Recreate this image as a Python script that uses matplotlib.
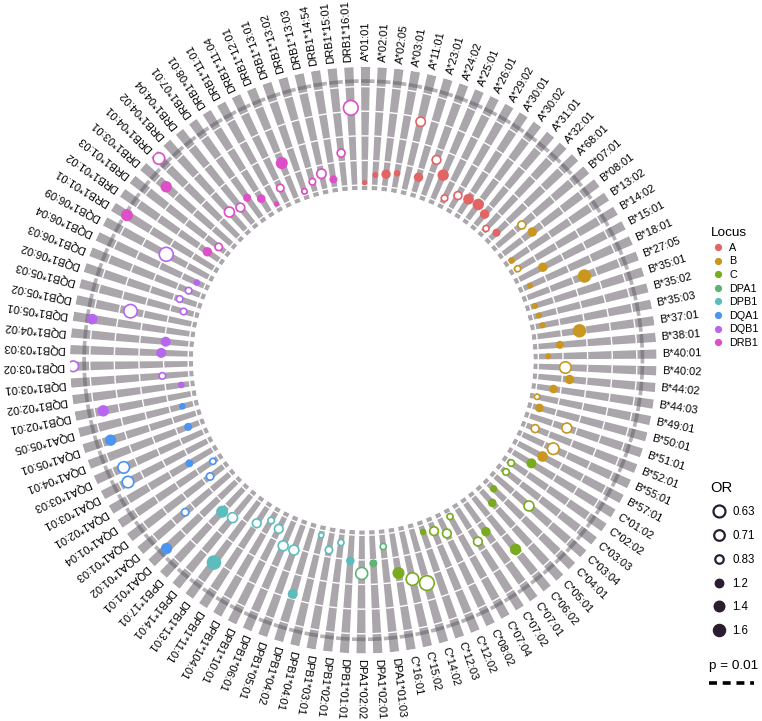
import numpy as np
import matplotlib.pyplot as plt
from matplotlib.lines import Line2D

plt.rcParams['font.family'] = ['Liberation Sans', 'DejaVu Sans']

# ---- data -------------------------------------------------------------
loci = ['A', 'B', 'C', 'DPA1', 'DPB1', 'DQA1', 'DQB1', 'DRB1']
locus_colors = ['#e36464', '#c9961f', '#7aab1e', '#5cb572',
                '#5dbdbd', '#4b94f2', '#b866ef', '#dc4fc7']

alleles = [
    'A*01:01', 'A*02:01', 'A*02:05', 'A*03:01', 'A*11:01', 'A*23:01', 'A*24:02',
    'A*25:01', 'A*26:01', 'A*29:02', 'A*30:01', 'A*30:02', 'A*31:01', 'A*32:01',
    'A*68:01',
    'B*07:01', 'B*08:01', 'B*13:02', 'B*14:02', 'B*15:01', 'B*18:01', 'B*27:05',
    'B*35:01', 'B*35:02', 'B*35:03', 'B*37:01', 'B*38:01', 'B*40:01', 'B*40:02',
    'B*44:02', 'B*44:03', 'B*49:01', 'B*50:01', 'B*51:01', 'B*52:01', 'B*55:01',
    'B*57:01',
    'C*01:02', 'C*02:02', 'C*03:03', 'C*03:04', 'C*04:01', 'C*05:01', 'C*06:02',
    'C*07:01', 'C*07:02', 'C*07:04', 'C*08:02', 'C*12:02', 'C*12:03', 'C*14:02',
    'C*15:02', 'C*16:01',
    'DPA1*01:03', 'DPA1*02:01', 'DPA1*02:02',
    'DPB1*01:01', 'DPB1*02:01', 'DPB1*03:01', 'DPB1*04:01', 'DPB1*04:02',
    'DPB1*05:01', 'DPB1*06:01', 'DPB1*10:01', 'DPB1*104:01', 'DPB1*11:01',
    'DPB1*13:01', 'DPB1*14:01', 'DPB1*17:01',
    'DQA1*01:01', 'DQA1*01:02', 'DQA1*01:03', 'DQA1*01:04', 'DQA1*02:01',
    'DQA1*03:01', 'DQA1*03:03', 'DQA1*04:01', 'DQA1*05:01', 'DQA1*05:05',
    'DQB1*02:01', 'DQB1*02:02', 'DQB1*03:01', 'DQB1*03:02', 'DQB1*03:03',
    'DQB1*04:02', 'DQB1*05:01', 'DQB1*05:02', 'DQB1*05:03', 'DQB1*06:02',
    'DQB1*06:03', 'DQB1*06:04', 'DQB1*06:09',
    'DRB1*01:01', 'DRB1*01:02', 'DRB1*01:03', 'DRB1*03:01', 'DRB1*04:01',
    'DRB1*04:02', 'DRB1*04:04', 'DRB1*07:01', 'DRB1*08:01', 'DRB1*11:01',
    'DRB1*11:04', 'DRB1*12:01', 'DRB1*13:01', 'DRB1*13:02', 'DRB1*13:03',
    'DRB1*14:54', 'DRB1*15:01', 'DRB1*16:01',
]

# association score (radial position, 0 = inner edge, 1 = outer edge)
score = [
    0.06, 0.125, 0.14, 0.16, 0.61, 0.17, 0.35, 0.255, 0.09, 0.16, 0.18, 0.19,
    0.16, 0.08, 0.115,
    0.31, 0.34, 0.07, 0.075, 0.26, 0.10, 0.54, 0.08, 0.09, 0.10, 0.39, 0.22,
    0.12, 0.26, 0.30, 0.18, 0.06, 0.10, 0.36, 0.12, 0.32, 0.27,
    0.22, 0.08, 0.09, 0.41, 0.105, 0.18, 0.59, 0.33, 0.36, 0.07, 0.18, 0.12,
    0.095, 0.50, 0.44, 0.37,
    0.14, 0.27, 0.35,
    0.25, 0.11, 0.185, 0.08, 0.60, 0.26, 0.26, 0.15, 0.12, 0.20, 0.66, 0.28,
    0.30,
    0.83, 0.52, 0.18, 0.09, 0.26, 0.77, 0.75, 0.14, 0.77, 0.135,
    0.77, 0.11, 0.255, 0.975, 0.26, 0.23, 0.845, 0.55, 0.13, 0.19, 0.145,
    0.11, 0.435,
    0.87, 0.16, 0.11, 0.75, 0.95, 0.24, 0.21, 0.24, 0.17, 0.07, 0.17, 0.35,
    0.07, 0.125, 0.17, 0.106, 0.31, 0.67,
]

odds_ratio = [
    1.02, 1.05, 1.28, 1.08, 0.78, 1.28, 0.82, 1.50, 0.93, 0.86, 1.41, 1.50,
    1.28, 0.95, 1.17,
    0.86, 1.28, 1.08, 0.95, 1.28, 1.05, 1.82, 1.05, 1.05, 1.05, 1.82, 1.17,
    1.05, 0.66, 1.28, 1.21, 0.98, 1.21, 0.75, 0.86, 0.66, 1.41,
    1.34, 0.93, 0.93, 0.75, 1.13, 1.21, 1.50, 1.28, 0.82, 0.95, 0.82, 0.82,
    1.08, 0.48, 0.60, 1.59,
    0.95, 1.17, 0.63,
    1.21, 0.95, 0.89, 0.99, 1.34, 0.75, 0.75, 0.82, 0.93, 0.82, 2.07, 0.75,
    1.59,
    1.50, 0.89, 0.89, 0.95, 1.17, 0.66, 0.66, 1.17, 1.50, 1.08,
    1.50, 1.08, 0.93, 0.71, 1.34, 1.34, 1.41, 0.55, 0.93, 0.93, 0.93, 1.08,
    0.52,
    1.59, 1.28, 0.89, 1.50, 0.66, 0.75, 0.82, 1.17, 1.21, 1.01, 0.89, 1.59,
    0.98, 0.93, 0.78, 1.17, 0.86, 0.48,
]

p01_score = 0.885          # score reached at p = 0.01
grid_scores = [0.04, 0.24, 0.44, 0.64, 0.84]
or_legend = [0.63, 0.71, 0.83, 1.2, 1.4, 1.6]

# ---- helpers ----------------------------------------------------------
def marker_area(orv):
    # diameter in px grows with |log OR|, scatter wants points^2
    d_px = np.sqrt(23.5 + 261 * np.abs(np.log(orv)))
    return (d_px * 0.72) ** 2

n = len(alleles)
step = 2 * np.pi / n
theta = (np.arange(n) + 0.5) * step
locus_of = [a.split('*')[0] for a in alleles]
col = np.array([locus_colors[loci.index(l)] for l in locus_of])
score = np.array(score)
odds_ratio = np.array(odds_ratio)

# ---- figure -----------------------------------------------------------
fig = plt.figure(figsize=(7.62, 7.21), dpi=100)
ax = fig.add_axes([70 / 762, 67.5 / 721, 586.6 / 762, 586.6 / 721],
                  projection='polar')
ax.set_theta_zero_location('N', offset=1.2)
ax.set_theta_direction(-1)

# gray background bars
ax.bar(theta, 1.0, bottom=0, width=step * 0.55, color='#aaa6ab',
       edgecolor='none', zorder=1)

# white rings across the bars
ring = np.linspace(0, 2 * np.pi, 720)
for g in grid_scores:
    ax.plot(ring, np.full_like(ring, g), color='white', lw=1.0, zorder=2)

# p = 0.01 marks
ax.bar(theta + step * 0.15, 0.03, bottom=p01_score - 0.015, width=step * 0.85,
       color='#5a5560', alpha=0.45, edgecolor='none', zorder=2.5)

# points: filled for OR > 1, open for OR < 1
up = odds_ratio > 1
ax.scatter(theta[up], score[up], s=marker_area(odds_ratio[up]), c=col[up],
           edgecolors='none', zorder=4)
ax.scatter(theta[~up], score[~up], s=marker_area(odds_ratio[~up]),
           facecolors='white', edgecolors=col[~up], linewidths=1.2, zorder=4)

# allele labels
for t, lab in zip(theta, alleles):
    ang = np.degrees(t) - 1.2
    ax.text(t, 1.045, lab, rotation=90 - ang, rotation_mode='anchor',
            ha='left', va='center', fontsize=8.0, color='black')

ax.set_ylim(0, 1)
ax.set_rorigin(-170 / 123)
ax.axis('off')

# ---- legends ----------------------------------------------------------
loc_handles = [Line2D([0], [0], marker='o', ls='', color=c, markersize=4.2)
               for c in locus_colors]
fig.legend(loc_handles, loci, title='Locus', loc='upper left',
           bbox_to_anchor=(707 / 762, 1 - 223 / 721), frameon=False,
           fontsize=7.8, title_fontsize=9.7, alignment='left',
           handletextpad=0.45, labelspacing=0.33, handlelength=1.2,
           borderaxespad=0)

or_handles = []
for v in or_legend:
    ms = np.sqrt(marker_area(v))
    if v < 1:
        or_handles.append(Line2D([0], [0], marker='o', ls='', markersize=ms,
                                 markerfacecolor='white',
                                 markeredgecolor='#2b1d30',
                                 markeredgewidth=1.6))
    else:
        or_handles.append(Line2D([0], [0], marker='o', ls='', markersize=ms,
                                 markerfacecolor='#2b1d30',
                                 markeredgecolor='#2b1d30'))
fig.legend(or_handles, [f'{v:g}' for v in or_legend], title='OR',
           loc='upper left', bbox_to_anchor=(706 / 762, 1 - 476 / 721),
           frameon=False, fontsize=8.3, title_fontsize=10.6,
           alignment='left', handletextpad=0.5, labelspacing=1.02,
           handlelength=1.4, borderaxespad=0)

p_handle = [Line2D([0], [0], color='black', lw=2.6, ls=(0, (2.2, 1.6)))]
fig.legend(p_handle, [''], title='p = 0.01', loc='upper left',
           bbox_to_anchor=(704 / 762, 1 - 655 / 721), frameon=False,
           fontsize=9, title_fontsize=9.7, alignment='left',
           handlelength=3.6, handletextpad=0, borderaxespad=0)

fig.savefig('out.png', dpi=100)
